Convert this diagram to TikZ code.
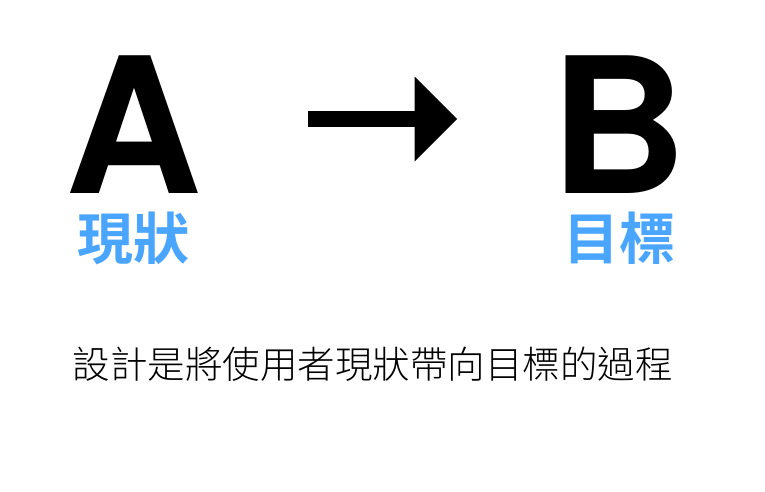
\documentclass[tikz,border=0pt]{standalone}
\usepackage{fontspec}
\setmainfont{TeX Gyre Heros}
\newfontfamily\cjkbold{Noto Sans CJK TC Bold}
\newfontfamily\cjk{Noto Sans CJK TC Light}
\usepackage{tikz}
\usetikzlibrary{arrows.meta}

\definecolor{labelblue}{RGB}{74,165,255}

\tikzset{
    bigletter/.style={inner sep=0pt, font=\fontsize{189}{189}\selectfont\bfseries},
    statelabel/.style={inner sep=0pt, text=labelblue, font=\fontsize{56}{56}\cjkbold},
    caption/.style={inner sep=0pt, font=\fontsize{37.5}{37.5}\cjk},
    bigarrow/.style={line width=16pt, -{Triangle[length=42.5pt, width=85pt, line width=0pt]}}
}

\begin{document}
\begin{tikzpicture}[x=1pt, y=-1pt]
    % Fix the page size
    \useasboundingbox (0,0) rectangle (765,491);

    % Draw the two letters
    \node[bigletter] (A) at (133.5,125) {A};
    \node[bigletter] (B) at (619,125) {B};

    % Label the two states
    \node[statelabel] (now) at (133,238.5) {現狀};
    \node[statelabel] (goal) at (619.5,238.5) {目標};

    % Draw the arrow from A to B
    \coordinate (from) at (308,119);
    \coordinate (to) at (457,119);
    \draw[bigarrow] (from) -- (to);

    % Caption
    \node[caption] (text) at (372.5,364.5) {設計是將使用者現狀帶向目標的過程};
\end{tikzpicture}
\end{document}
